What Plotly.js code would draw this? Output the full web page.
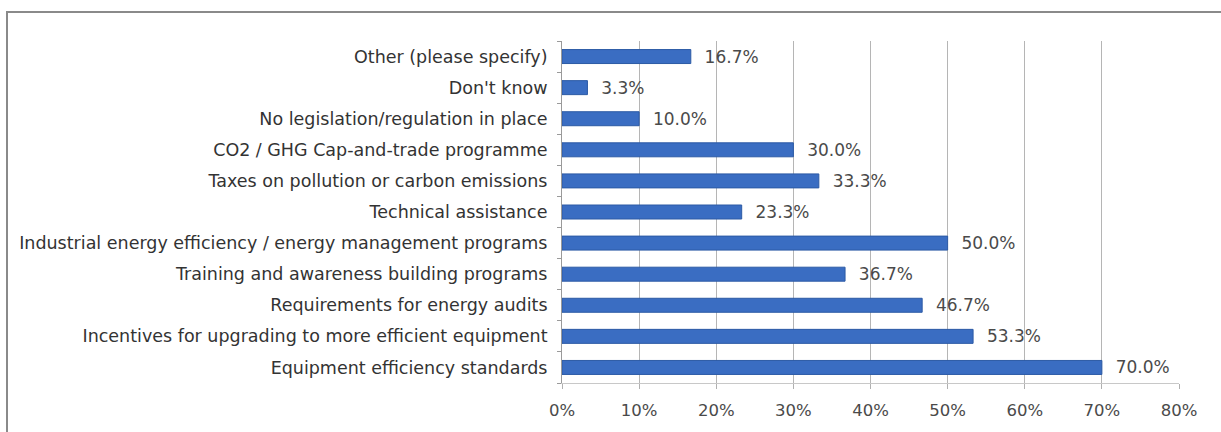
<!DOCTYPE html>
<html>
<head>
<meta charset="utf-8">
<script src="https://cdn.plot.ly/plotly-3.0.1.min.js"></script>
<style>
  html, body { margin: 0; padding: 0; background: #fff; }
  #wrap { position: relative; width: 1221px; height: 432px; overflow: hidden; }
  #chart { width: 1221px; height: 432px; }
  #frame { position: absolute; left: 6px; top: 11px; width: 1300px; height: 500px;
           border-left: 2px solid #8a8a8a; border-top: 2px solid #8a8a8a; pointer-events: none; }
</style>
</head>
<body>
<div id="wrap">
  <div id="chart"></div>
  <div id="frame"></div>
</div>
<script>
// Categories listed bottom to top
const categories = [
  "Equipment efficiency standards",
  "Incentives for upgrading to more efficient equipment",
  "Requirements for energy audits",
  "Training and awareness building programs",
  "Industrial energy efficiency / energy management programs",
  "Technical assistance",
  "Taxes on pollution or carbon emissions",
  "CO2 / GHG Cap-and-trade programme",
  "No legislation/regulation in place",
  "Don't know",
  "Other (please specify)"
];
const values = [70.0, 53.3, 46.7, 36.7, 50.0, 23.3, 33.3, 30.0, 10.0, 3.3, 16.7];
const xTickValues = [0, 10, 20, 30, 40, 50, 60, 70, 80];
const xTickLabels = ["0%", "10%", "20%", "30%", "40%", "50%", "60%", "70%", "80%"];

const FONT = "'DejaVu Sans', sans-serif";

const trace = {
  type: "bar",
  orientation: "h",
  y: categories,
  x: values,
  marker: { color: "#3a6dc2", line: { color: "#2c5aa5", width: 1 } },
  texttemplate: "\u00a0\u00a0%{x:.1f}%",
  textposition: "outside",
  constraintext: "none",
  cliponaxis: false,
  textfont: { family: FONT, size: 17, color: "#4a4a4a" },
  hoverinfo: "skip"
};

const layout = {
  width: 1221,
  height: 432,
  margin: { l: 562, r: 42, t: 41, b: 49, pad: 0 },
  paper_bgcolor: "#ffffff",
  plot_bgcolor: "#ffffff",
  showlegend: false,
  bargap: 0.55,
  xaxis: {
    range: [0, 80],
    tickvals: xTickValues,
    ticktext: xTickLabels,
    showgrid: true,
    gridcolor: "#b5b5b5",
    gridwidth: 1,
    zeroline: false,
    showline: true,
    linecolor: "#c8c8c8",
    linewidth: 1,
    ticks: "outside",
    ticklen: 5,
    tickcolor: "#b0b0b0",
    ticklabelstandoff: 7,
    tickfont: { family: FONT, size: 16.5, color: "#4a4a4a" },
    fixedrange: true
  },
  yaxis: {
    type: "category",
    showgrid: false,
    zeroline: false,
    showline: true,
    linecolor: "#9a9a9a",
    linewidth: 1,
    ticks: "outside",
    tickson: "boundaries",
    ticklen: 4,
    tickcolor: "#9a9a9a",
    ticklabelstandoff: 10,
    tickfont: { family: FONT, size: 17.5, color: "#333333" },
    fixedrange: true
  }
};

Plotly.newPlot("chart", [trace], layout, { displayModeBar: false, staticPlot: true });
</script>
</body>
</html>
